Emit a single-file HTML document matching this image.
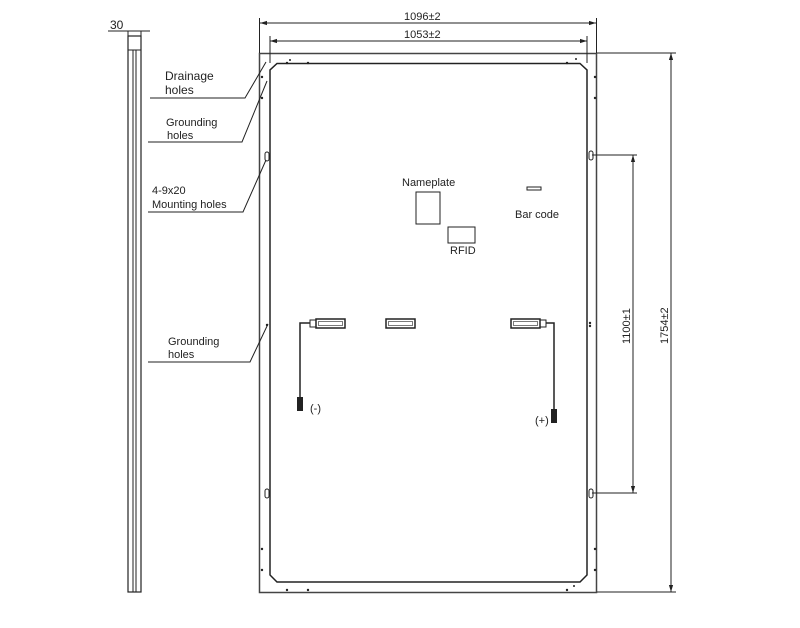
<!DOCTYPE html>
<html><head><style>body{margin:0;background:#fff}svg{display:block}text{font-family:"Liberation Sans",sans-serif;fill:#222}</style></head><body>
<svg width="800" height="628" viewBox="0 0 800 628" xmlns="http://www.w3.org/2000/svg">
<defs><marker id="a" viewBox="0 0 10 10" refX="10" refY="5" markerWidth="7" markerHeight="7" orient="auto-start-reverse"><path d="M0,2 L10,5 L0,8z" fill="#222"/></marker></defs>
<g stroke="#222" fill="none" stroke-width="1">
<rect x="128" y="36" width="13" height="556" stroke-width="1.2"/>
<line x1="133" y1="50" x2="133" y2="592"/><line x1="136" y1="50" x2="136" y2="592"/>
<line x1="128" y1="50" x2="141" y2="50"/>
<line x1="108" y1="31" x2="150" y2="31"/>
<line x1="128" y1="31" x2="128" y2="36"/><line x1="141" y1="31" x2="141" y2="36"/>
<rect x="259.5" y="53.5" width="337" height="539" stroke-width="1.5" stroke="#444"/>
<path d="M277,63.5 H580 L587,70 V575 L580,582 H277 L270,575 V70 Z" stroke-width="1.5"/>
<line x1="259.5" y1="18" x2="259.5" y2="53"/><line x1="596.5" y1="18" x2="596.5" y2="53"/>
<line x1="260" y1="23" x2="596" y2="23" marker-start="url(#a)" marker-end="url(#a)"/>
<line x1="270" y1="36" x2="270" y2="63"/><line x1="587" y1="36" x2="587" y2="63"/>
<line x1="270" y1="41" x2="587" y2="41" marker-start="url(#a)" marker-end="url(#a)"/>
<line x1="597" y1="53" x2="676" y2="53"/><line x1="597" y1="592" x2="676" y2="592"/>
<line x1="671" y1="53" x2="671" y2="592" marker-start="url(#a)" marker-end="url(#a)"/>
<line x1="592" y1="155" x2="637" y2="155"/><line x1="592" y1="493" x2="637" y2="493"/>
<line x1="633" y1="155" x2="633" y2="493" marker-start="url(#a)" marker-end="url(#a)"/>
<rect x="265" y="152" width="4" height="9" rx="2"/><rect x="265" y="489" width="4" height="9" rx="2"/>
<rect x="589" y="151" width="4" height="9" rx="2"/><rect x="589" y="489" width="4" height="9" rx="2"/>
<polyline points="150,98 245,98 266,62"/>
<polyline points="148,142 242,142 267,81"/>
<polyline points="148,212 243,212 266,160"/>
<polyline points="148,362 250,362 268,324"/>
<rect x="416" y="192" width="24" height="32"/>
<rect x="448" y="227" width="27" height="16"/>
<rect x="527" y="187" width="14" height="3"/>
<rect x="310" y="320" width="6" height="7"/><rect x="316" y="319" width="29" height="9" stroke-width="1.5"/><rect x="318.5" y="321.5" width="24" height="4" stroke-width="0.6"/>
<rect x="386" y="319" width="29" height="9" stroke-width="1.5"/><rect x="388.5" y="321.5" width="24" height="4" stroke-width="0.6"/>
<rect x="511" y="319" width="29" height="9" stroke-width="1.5"/><rect x="513.5" y="321.5" width="24" height="4" stroke-width="0.6"/><rect x="540" y="320" width="6" height="7"/>
<polyline points="310,323 300,323 300,398" stroke-width="1.5"/>
<polyline points="546,323 554,323 554,410" stroke-width="1.5"/>
</g>
<g fill="#222">
<rect x="297" y="397" width="6" height="14"/><rect x="551" y="409" width="6" height="14"/>
<circle cx="287" cy="63" r="1.2"/><circle cx="308" cy="63" r="1.2"/><circle cx="290" cy="60" r="1"/>
<circle cx="567" cy="63" r="1.2"/><circle cx="576" cy="59" r="1"/>
<circle cx="595" cy="77" r="1.2"/><circle cx="595" cy="98" r="1.2"/><circle cx="262" cy="77" r="1.2"/><circle cx="262" cy="98" r="1.2"/>
<circle cx="267" cy="325" r="1.2"/><circle cx="590" cy="323" r="1.2"/><circle cx="590" cy="326" r="1.2"/>
<circle cx="595" cy="549" r="1.2"/><circle cx="595" cy="570" r="1.2"/><circle cx="262" cy="549" r="1.2"/><circle cx="262" cy="570" r="1.2"/>
<circle cx="287" cy="590" r="1.2"/><circle cx="308" cy="590" r="1.2"/><circle cx="567" cy="590" r="1.2"/><circle cx="574" cy="586" r="1"/>
</g>
<g font-size="11">
<text x="110" y="29" font-size="12">30</text>
<text x="404" y="20">1096±2</text>
<text x="404" y="38">1053±2</text>
<text x="165" y="80" font-size="12">Drainage</text><text x="165" y="94" font-size="12">holes</text>
<text x="166" y="126">Grounding</text><text x="167" y="139">holes</text>
<text x="152" y="194">4-9x20</text><text x="152" y="208">Mounting holes</text>
<text x="168" y="345">Grounding</text><text x="168" y="358">holes</text>
<text x="402" y="186">Nameplate</text>
<text x="450" y="254">RFID</text>
<text x="515" y="218">Bar code</text>
<text x="310" y="412">(-)</text>
<text x="535" y="424">(+)</text>
<text transform="translate(630,344) rotate(-90)">1100±1</text>
<text transform="translate(668,344) rotate(-90)">1754±2</text>
</g>
</svg>
</body></html>
